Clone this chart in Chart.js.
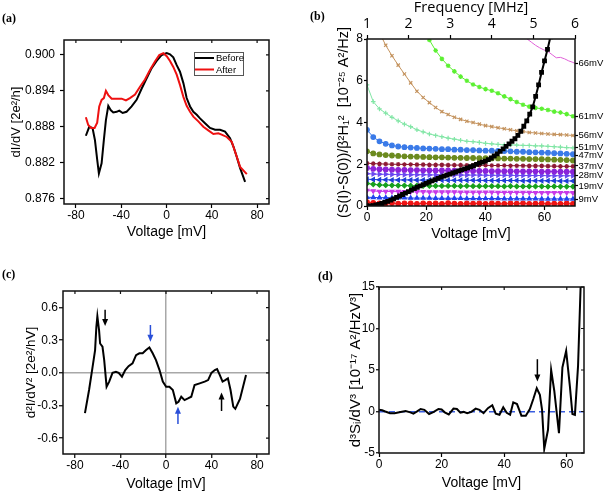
<!DOCTYPE html>
<html>
<head>
<meta charset="utf-8">
<script src="https://cdn.jsdelivr.net/npm/chart.js@4.4.1/dist/chart.umd.min.js"></script>
<style>
  body { margin: 0; background: #fff; }
  #wrap { position: relative; width: 604px; height: 494px; overflow: hidden; }
  .panel { position: absolute; width: 302px; height: 247px; }
  .tag { position: absolute; font: bold 12px/12px "Liberation Serif", "Times New Roman", serif; color: #000; }
</style>
</head>
<body>
<div id="wrap">
  <div class="panel" style="left:0;top:0"><canvas id="chartA" width="302" height="247"></canvas></div>
  <div class="panel" style="left:302px;top:0"><canvas id="chartB" width="302" height="247"></canvas></div>
  <div class="panel" style="left:0;top:247px"><canvas id="chartC" width="302" height="247"></canvas></div>
  <div class="panel" style="left:302px;top:247px"><canvas id="chartD" width="302" height="247"></canvas></div>
  <div class="tag" style="left:2px;top:12px">(a)</div>
  <div class="tag" style="left:310px;top:10px">(b)</div>
  <div class="tag" style="left:2px;top:268px">(c)</div>
  <div class="tag" style="left:318px;top:270px">(d)</div>
</div>
<script>
// ---------- (a) dI/dV ----------
const voltBefore = [-71.2, -68.2, -65.3, -63.2, -61.2, -59.7, -57.3, -55.3, -53.5, -51.4, -49.3, -47, -44, -41.7, -38.7, -35.3, -30.8, -26.4, -21.9, -17.5, -13.1, -8.7, -4.2, 0.2, 3.1, 6, 9, 11.9, 14.9, 17.8, 20.8, 23.7, 26.7, 29.6, 34, 38.4, 42.9, 47.3, 51.7, 56.1, 59.1, 62, 65, 69.4];
const didvBefore = [0.8865, 0.8880, 0.8878, 0.8858, 0.8825, 0.8802, 0.8819, 0.8858, 0.8891, 0.8915, 0.8908, 0.8904, 0.8905, 0.8907, 0.8903, 0.8905, 0.8914, 0.8925, 0.8944, 0.8961, 0.8978, 0.8990, 0.9000, 0.9003, 0.9001, 0.8996, 0.8983, 0.8972, 0.8953, 0.8928, 0.8914, 0.8905, 0.8900, 0.8894, 0.8886, 0.8878, 0.8875, 0.8875, 0.8872, 0.8861, 0.8847, 0.8830, 0.8811, 0.8788];
const voltAfter = [-71.2, -69.1, -66.4, -63.5, -61.2, -59.4, -57.3, -55.3, -53.5, -51.4, -48.4, -44, -39.6, -35.8, -32.3, -27.8, -23.4, -19, -14.6, -10.2, -6.4, -2.8, 0.2, 3.1, 6, 9, 11.9, 14.9, 17.8, 20.8, 23.7, 28.1, 32.5, 36.9, 41.4, 45.8, 48.7, 53.2, 57.6, 60.6, 65, 70.9];
const didvAfter = [0.8896, 0.8883, 0.8878, 0.8878, 0.8887, 0.8914, 0.8925, 0.8928, 0.8940, 0.8933, 0.8927, 0.8927, 0.8927, 0.8924, 0.8928, 0.8934, 0.8947, 0.8959, 0.8975, 0.8989, 0.9000, 0.9003, 0.8998, 0.8990, 0.8980, 0.8967, 0.8950, 0.8930, 0.8915, 0.8905, 0.8897, 0.8889, 0.8880, 0.8874, 0.8868, 0.8869, 0.8867, 0.8863, 0.8855, 0.8838, 0.8813, 0.8801];
const voltTicks = [-80, -40, 0, 40, 80];
const didvTicks = [0.876, 0.882, 0.888, 0.894, 0.900];

// ---------- (b) noise spectra ----------
const freqB = [1.00, 1.15, 1.30, 1.45, 1.60, 1.75, 1.90, 2.05, 2.20, 2.35, 2.50, 2.65, 2.80, 2.95, 3.10, 3.25, 3.40, 3.55, 3.70, 3.85, 4.00, 4.15, 4.30, 4.45, 4.60, 4.75, 4.90, 5.05, 5.20, 5.35, 5.50, 5.65, 5.80, 5.95];
const freq66 = [4.85, 4.95, 5.05, 5.15, 5.25, 5.35, 5.45, 5.55, 5.65, 5.75, 5.85, 5.95, 6.00];
const s66 = [8.00, 7.85, 7.70, 7.58, 7.48, 7.40, 7.25, 7.10, 7.12, 7.05, 6.95, 6.88, 6.83];
const s61 = [null, null, null, null, null, null, null, null, null, 8.40, 7.95, 7.45, 7.05, 6.72, 6.45, 6.20, 6.00, 5.82, 5.70, 5.60, 5.52, 5.40, 5.25, 5.12, 4.98, 4.85, 4.76, 4.70, 4.66, 4.60, 4.52, 4.48, 4.40, 4.30];
const s56 = [null, null, 8.30, 7.70, 7.20, 6.75, 6.32, 5.90, 5.50, 5.20, 4.95, 4.72, 4.52, 4.38, 4.25, 4.15, 4.06, 4.00, 3.92, 3.85, 3.80, 3.75, 3.70, 3.65, 3.60, 3.57, 3.52, 3.50, 3.47, 3.45, 3.43, 3.42, 3.40, 3.38];
const s51 = [5.80, 5.00, 4.65, 4.45, 4.25, 4.08, 3.92, 3.80, 3.65, 3.55, 3.45, 3.38, 3.32, 3.25, 3.20, 3.15, 3.10, 3.08, 3.05, 3.00, 2.98, 2.95, 2.93, 2.93, 2.92, 2.90, 2.90, 2.88, 2.88, 2.86, 2.84, 2.82, 2.80, 2.78];
const s47 = [3.65, 3.30, 3.10, 2.98, 2.90, 2.85, 2.82, 2.80, 2.78, 2.76, 2.75, 2.74, 2.72, 2.72, 2.70, 2.70, 2.68, 2.68, 2.66, 2.65, 2.65, 2.64, 2.63, 2.62, 2.60, 2.60, 2.58, 2.57, 2.56, 2.55, 2.53, 2.52, 2.50, 2.48];
const s42 = [2.62, 2.52, 2.47, 2.44, 2.42, 2.40, 2.38, 2.37, 2.36, 2.35, 2.34, 2.33, 2.33, 2.32, 2.31, 2.31, 2.30, 2.30, 2.29, 2.29, 2.28, 2.28, 2.27, 2.27, 2.26, 2.26, 2.25, 2.25, 2.24, 2.23, 2.22, 2.21, 2.20, 2.18];
const s37 = [2.05, 2.03, 2.02, 2.01, 2.00, 2.00, 1.99, 1.99, 1.98, 1.98, 1.97, 1.97, 1.97, 1.96, 1.96, 1.96, 1.95, 1.95, 1.95, 1.95, 1.94, 1.94, 1.94, 1.93, 1.93, 1.93, 1.92, 1.92, 1.92, 1.91, 1.91, 1.90, 1.90, 1.90];
const s33 = [1.82, 1.78, 1.76, 1.75, 1.74, 1.73, 1.73, 1.72, 1.72, 1.71, 1.71, 1.70, 1.70, 1.70, 1.69, 1.69, 1.69, 1.68, 1.68, 1.68, 1.67, 1.67, 1.67, 1.67, 1.66, 1.66, 1.66, 1.66, 1.65, 1.65, 1.65, 1.64, 1.64, 1.64];
const s28 = [1.55, 1.53, 1.52, 1.52, 1.51, 1.51, 1.50, 1.50, 1.50, 1.50, 1.49, 1.49, 1.49, 1.49, 1.48, 1.48, 1.48, 1.48, 1.48, 1.47, 1.47, 1.47, 1.47, 1.47, 1.46, 1.46, 1.46, 1.46, 1.46, 1.45, 1.45, 1.45, 1.45, 1.45];
const s23 = [1.28, 1.27, 1.26, 1.26, 1.25, 1.25, 1.25, 1.25, 1.24, 1.24, 1.24, 1.24, 1.24, 1.23, 1.23, 1.23, 1.23, 1.23, 1.23, 1.22, 1.22, 1.22, 1.22, 1.22, 1.22, 1.21, 1.21, 1.21, 1.21, 1.21, 1.21, 1.20, 1.20, 1.20];
const s19 = [1.08, 1.04, 1.01, 1.00, 0.99, 0.98, 0.98, 0.97, 0.97, 0.97, 0.96, 0.96, 0.96, 0.96, 0.96, 0.95, 0.96, 0.95, 0.95, 0.95, 0.95, 0.95, 0.94, 0.95, 0.94, 0.94, 0.94, 0.94, 0.94, 0.93, 0.94, 0.93, 0.93, 0.93];
const s14 = [0.74, 0.72, 0.70, 0.70, 0.69, 0.69, 0.68, 0.68, 0.68, 0.68, 0.67, 0.67, 0.67, 0.67, 0.67, 0.66, 0.66, 0.66, 0.66, 0.66, 0.66, 0.65, 0.65, 0.65, 0.65, 0.65, 0.65, 0.64, 0.64, 0.64, 0.64, 0.64, 0.64, 0.63];
const s9 = [0.42, 0.41, 0.40, 0.40, 0.39, 0.39, 0.39, 0.38, 0.38, 0.38, 0.38, 0.37, 0.37, 0.37, 0.37, 0.37, 0.36, 0.36, 0.36, 0.36, 0.36, 0.36, 0.35, 0.35, 0.35, 0.35, 0.35, 0.35, 0.34, 0.34, 0.34, 0.34, 0.34, 0.34];
const s5 = [0.18, 0.15, 0.13, 0.12, 0.14, 0.11, 0.13, 0.12, 0.10, 0.13, 0.11, 0.12, 0.10, 0.14, 0.11, 0.10, 0.12, 0.11, 0.13, 0.10, 0.12, 0.11, 0.10, 0.12, 0.11, 0.13, 0.10, 0.11, 0.12, 0.10, 0.11, 0.10, 0.12, 0.10];
// black curve: noise vs bias voltage
const voltB = [0, 1, 2, 3, 4, 5, 6, 7, 8, 9, 10, 11, 12, 13, 14, 15, 16, 17, 18, 19, 20, 21, 22, 23, 24, 25, 26, 27, 28, 29, 30, 31, 32, 33, 34, 35, 36, 37, 38, 39, 40, 41, 42, 43, 44, 45, 46, 47, 48, 49, 50, 51, 52, 53, 54, 55, 56, 57, 58, 59, 60, 61, 62];
const noiseB = [0, 0, 0.02, 0.05, 0.08, 0.12, 0.17, 0.22, 0.28, 0.34, 0.41, 0.48, 0.55, 0.62, 0.69, 0.76, 0.83, 0.90, 0.96, 1.02, 1.08, 1.14, 1.20, 1.26, 1.32, 1.38, 1.43, 1.48, 1.53, 1.58, 1.63, 1.68, 1.73, 1.78, 1.83, 1.88, 1.93, 1.99, 2.05, 2.10, 2.15, 2.22, 2.30, 2.40, 2.50, 2.62, 2.74, 2.86, 2.98, 3.10, 3.22, 3.38, 3.58, 3.82, 4.08, 4.40, 4.75, 5.25, 5.80, 6.40, 6.95, 7.50, 8.10];
const mvLabels = ['66mV', '61mV', '56mV', '51mV', '47mV', '37mV', '28mV', '19mV', '9mV'];
const mvLabelPos = [6.85, 4.27, 3.36, 2.80, 2.42, 1.92, 1.47, 0.96, 0.33];
const voltTicksB = [0, 20, 40, 60];
const freqTicks = [1, 2, 3, 4, 5, 6];
const noiseTicks = [0, 2, 4, 6, 8];

// ---------- (c) d2I/dV2 ----------
const voltC = [-71.2, -67.6, -64.7, -62.3, -61.2, -60.3, -58.8, -57.9, -55.8, -54.3, -52.2, -49.9, -47, -44, -41.6, -38.7, -35.8, -32.9, -29.4, -26.3, -23.4, -20.5, -17.5, -14.6, -11.7, -8.8, -5.7, -2.8, 0.1, 3, 6, 9, 11, 13.4, 16.3, 19.3, 22.2, 25.1, 29.6, 34, 37, 39.9, 42.9, 44.9, 47.3, 49.7, 52, 54.4, 56.7, 59.1, 60.9, 65, 70.3];
const d2C = [-0.37, -0.157, 0.041, 0.209, 0.42, 0.52, 0.39, 0.27, 0.24, 0.117, -0.127, -0.08, 0, 0.01, 0, -0.035, 0.026, 0.062, 0.087, 0.163, 0.18, 0.18, 0.21, 0.234, 0.18, 0.117, 0.026, -0.08, -0.127, -0.127, -0.157, -0.28, -0.265, -0.219, -0.25, -0.235, -0.219, -0.112, -0.096, -0.08, -0.066, 0, 0.026, 0.035, -0.02, -0.08, -0.066, -0.05, -0.157, -0.31, -0.33, -0.24, -0.02];
const d2Ticks = [-0.6, -0.3, 0, 0.3, 0.6];
const arrowsC = [
    { x: -53.5, from: 0.58, to: 0.43, color: '#000' },
    { x: -13.7, from: 0.44, to: 0.285, color: '#2a4fd8' },
    { x: 10.5, from: -0.47, to: -0.31, color: '#2a4fd8' },
    { x: 48.8, from: -0.35, to: -0.18, color: '#000' }
];

// ---------- (d) d3S/dV3 ----------
const voltD = [0, 1, 2, 3.5, 5, 6.5, 8.5, 10, 11, 12.3, 13.3, 14.5, 16, 17.5, 19, 20, 21, 22.3, 23.8, 24.9, 26, 27, 28.2, 29.5, 30.9, 32.1, 33.4, 34.8, 36.2, 37.3, 38.5, 39.7, 40.8, 41.9, 42.9, 44.1, 45.5, 46.9, 48.2, 49.3, 50.4, 51.4, 52.1, 52.8, 54, 55, 56, 57.5, 58.6, 59.8, 61, 61.8, 62.6, 63.6, 64.5];
const d3D = [0.2, 0.15, 0, -0.2, -0.2, -0.1, 0.05, -0.1, -0.25, 0.05, 0.3, 0.2, -0.3, -0.05, 0.3, 0.25, -0.1, -0.35, 0.35, 0.3, -0.15, -0.05, -0.2, -0.05, 0.35, 0.2, -0.2, 0.4, 0.75, -0.25, -0.4, 0.5, -0.15, -0.4, 1.1, 0.9, -0.5, -0.5, 0.3, 1.5, 2.8, 2.0, 0.2, -4.5, -2.2, 5.0, 2.5, -2.6, 5.3, 7.3, 3.0, -0.3, -0.4, 5.5, 16];
const voltTicksD = [0, 20, 40, 60];
const d3Ticks = [-5, 0, 5, 10, 15];
const arrowsD = [{ x: 50.6, from: 6.3, to: 3.6, color: '#000' }];

// ---------- helpers ----------
const SANS = '"Liberation Sans", Arial, sans-serif';
const OPEN = '"Open Sans", sans-serif';
const tickFont = { family: SANS, size: 12 };
const titleFont = { family: SANS, size: 14 };

function pts(xs, ys) {
    const out = [];
    for (let i = 0; i < xs.length; i++) {
        out.push({ x: xs[i], y: ys[i] });
    }
    return out;
}

function axis(o) {
    return {
        type: 'linear',
        position: o.pos,
        min: o.min,
        max: o.max,
        afterFit: (s) => { if (s.isHorizontal()) s.height = o.size; else s.width = o.size; },
        afterBuildTicks: (s) => { s.ticks = o.ticks.map(v => ({ value: v })); },
        border: { display: false },
        grid: { drawOnChartArea: false, tickLength: o.tl || 4, tickColor: '#000', tickWidth: 1.2 },
        ticks: {
            color: '#000',
            font: o.font || tickFont,
            padding: o.pad || 0,
            autoSkip: false,
            maxRotation: 0,
            callback: o.fmt || ((v) => v)
        },
        title: {
            display: !!o.title,
            text: o.title,
            color: '#000',
            font: o.titleFont || titleFont,
            padding: o.titlePad || 0
        }
    };
}

// box round the plot, with short inward ticks mirrored on top and right
const framePlugin = {
    id: 'frame',
    afterDatasetsDraw(chart, args, opts) {
        const { ctx, chartArea: a, scales } = chart;
        ctx.save();
        ctx.strokeStyle = '#111';
        ctx.lineWidth = 1.5;
        ctx.strokeRect(a.left, a.top, a.right - a.left, a.bottom - a.top);
        if (opts.mirror) {
            ctx.lineWidth = 1.2;
            ctx.beginPath();
            scales.x.ticks.forEach(t => {
                const px = scales.x.getPixelForValue(t.value);
                ctx.moveTo(px, a.top);
                ctx.lineTo(px, a.top + 3);
            });
            scales.y.ticks.forEach(t => {
                const py = scales.y.getPixelForValue(t.value);
                ctx.moveTo(a.right, py);
                ctx.lineTo(a.right - 3, py);
            });
            ctx.stroke();
        }
        ctx.restore();
    }
};

const arrowPlugin = {
    id: 'arrows',
    afterDatasetsDraw(chart, args, opts) {
        const { ctx, scales } = chart;
        (opts.list || []).forEach(a => {
            const px = scales.x.getPixelForValue(a.x);
            const p0 = scales.y.getPixelForValue(a.from);
            const p1 = scales.y.getPixelForValue(a.to);
            const dir = p1 > p0 ? 1 : -1;
            ctx.save();
            ctx.strokeStyle = a.color;
            ctx.fillStyle = a.color;
            ctx.lineWidth = 1.5;
            ctx.beginPath();
            ctx.moveTo(px, p0);
            ctx.lineTo(px, p1 - dir * 5);
            ctx.stroke();
            ctx.beginPath();
            ctx.moveTo(px, p1);
            ctx.lineTo(px - 3, p1 - dir * 7);
            ctx.lineTo(px + 3, p1 - dir * 7);
            ctx.closePath();
            ctx.fill();
            ctx.restore();
        });
    }
};

const legendPlugin = {
    id: 'legendBox',
    afterDraw(chart) {
        const { ctx, chartArea: a } = chart;
        const x0 = a.right - 75, y0 = a.top + 12;
        ctx.save();
        ctx.strokeStyle = '#555';
        ctx.lineWidth = 1;
        ctx.strokeRect(x0 + 0.5, y0 + 0.5, 49, 23);
        ctx.font = '9.5px ' + SANS;
        ctx.textBaseline = 'middle';
        chart.data.datasets.forEach((ds, i) => {
            const yy = y0 + 6 + i * 11.5;
            ctx.strokeStyle = ds.borderColor;
            ctx.lineWidth = 2;
            ctx.beginPath();
            ctx.moveTo(x0 + 1, yy);
            ctx.lineTo(x0 + 20, yy);
            ctx.stroke();
            ctx.fillStyle = '#000';
            ctx.fillText(ds.label, x0 + 22, yy + 0.5);
        });
        ctx.restore();
    }
};

function baseOptions(padding, scales, extra) {
    return {
        responsive: false,
        animation: false,
        devicePixelRatio: 1,
        layout: { padding: padding },
        plugins: Object.assign({ legend: { display: false }, tooltip: { enabled: false } }, extra || {}),
        scales: scales
    };
}

function lineSet(label, data, color, width, extra) {
    return Object.assign({
        label: label,
        data: data,
        borderColor: color,
        backgroundColor: color,
        borderWidth: width,
        pointRadius: 0,
        tension: 0,
        fill: false
    }, extra || {});
}

// ---------- (a) ----------
new Chart(document.getElementById('chartA').getContext('2d'), {
    type: 'line',
    data: {
        datasets: [
            lineSet('Before', pts(voltBefore, didvBefore), '#000', 2, { order: 1 }),
            lineSet('After', pts(voltAfter, didvAfter), '#ee1111', 2, { order: 0 })
        ]
    },
    options: baseOptions({ left: 0, top: 40, right: 33, bottom: 0 }, {
        x: axis({ pos: 'bottom', min: -90.5, max: 90.5, size: 43, ticks: voltTicks, title: 'Voltage [mV]', titlePad: { bottom: 6 } }),
        y: axis({ pos: 'left', min: 0.8751, max: 0.9025, size: 64, ticks: didvTicks, pad: 5, fmt: v => v.toFixed(3),
            title: 'dI/dV [2e²/h]', titleFont: { family: SANS, size: 13 }, titlePad: { top: 9 } })
    }, { frame: { mirror: true } }),
    plugins: [framePlugin, legendPlugin]
});

// ---------- (b) ----------
function spec(label, ys, color, style, rot) {
    return lineSet(label, pts(freqB, ys), color, 1, {
        xAxisID: 'x2',
        pointRadius: 2.3,
        pointStyle: style,
        pointRotation: rot || 0,
        pointBorderWidth: 1.2,
        pointBorderColor: color,
        pointBackgroundColor: color
    });
}

const scalesB = {
    x: axis({ pos: 'bottom', min: 0, max: 70.3, size: 41, ticks: voltTicksB, title: 'Voltage [mV]', titlePad: { bottom: 4.5 } }),
    x2: axis({ pos: 'top', min: 1, max: 6, size: 39, ticks: freqTicks, pad: 3,
        font: { family: OPEN, size: 14 },
        title: 'Frequency [MHz]', titleFont: { family: OPEN, size: 14.5 }, titlePad: { top: -1 } }),
    y: axis({ pos: 'left', min: 0, max: 8, size: 65, ticks: noiseTicks, tl: 3, pad: 1,
        title: '(S(I)-S(0))/β²H₁²  [10⁻²⁵ A²/Hz]', titleFont: { family: SANS, size: 14.5 }, titlePad: { top: 33 } }),
    y2: axis({ pos: 'right', min: 0, max: 8, size: 29, ticks: mvLabelPos, tl: 3, pad: 0.5,
        font: { family: SANS, size: 9.5 }, fmt: (v, i) => mvLabels[i] })
};

new Chart(document.getElementById('chartB').getContext('2d'), {
    type: 'line',
    data: {
        datasets: [
            lineSet('noise vs V', pts(voltB, noiseB), '#000', 2, {
                xAxisID: 'x', pointRadius: 2, pointStyle: 'rect', pointBackgroundColor: '#000', pointBorderColor: '#000'
            }),
            lineSet('66mV', pts(freq66, s66), '#e060d8', 1, { xAxisID: 'x2' }),
            spec('61mV', s61, '#5cf032', 'star'),
            spec('56mV', s56, '#c4935e', 'crossRot'),
            spec('51mV', s51, '#82e6a6', 'cross'),
            spec('47mV', s47, '#3a7ae8', 'circle'),
            spec('42mV', s42, '#6b8a1e', 'circle'),
            spec('37mV', s37, '#8e1a34', 'star'),
            spec('33mV', s33, '#8a22d8', 'circle'),
            spec('28mV', s28, '#6a48f0', 'triangle', 90),
            spec('23mV', s23, '#1e3ed6', 'triangle', -90),
            spec('19mV', s19, '#18a01e', 'rectRot'),
            spec('14mV', s14, '#c83ae8', 'triangle', 180),
            spec('9mV', s9, '#2244ee', 'triangle'),
            spec('5mV', s5, '#ee1414', 'circle')
        ]
    },
    options: baseOptions({ left: 0, top: 0, right: 0, bottom: 0 }, scalesB),
    plugins: [framePlugin]
});

// ---------- (c) ----------
const scalesC = {
    x: axis({ pos: 'bottom', min: -90.5, max: 90.5, size: 40, ticks: voltTicks, title: 'Voltage [mV]', titlePad: { bottom: 1 } }),
    y: axis({ pos: 'left', min: -0.745, max: 0.752, size: 63, ticks: d2Ticks, pad: 1, fmt: v => v.toFixed(1),
        title: 'd²I/dV² [2e²/hV]', titleFont: { family: SANS, size: 13.5 }, titlePad: { top: 23 } })
};
const zeroGrid = (col) => ({
    drawOnChartArea: true, tickLength: 4, tickColor: '#000', tickWidth: 1.2, lineWidth: 1.5,
    color: c => (c.tick && c.tick.value === 0 ? col : 'rgba(0,0,0,0)')
});
scalesC.x.grid = zeroGrid('#a8a8a8');
scalesC.y.grid = zeroGrid('#a8a8a8');

new Chart(document.getElementById('chartC').getContext('2d'), {
    type: 'line',
    data: { datasets: [lineSet('d2I/dV2', pts(voltC, d2C), '#000', 2)] },
    options: baseOptions({ left: 0, top: 44, right: 33, bottom: 0 }, scalesC, { arrows: { list: arrowsC }, frame: { mirror: true } }),
    plugins: [framePlugin, arrowPlugin]
});

// ---------- (d) ----------
const scalesD = {
    x: axis({ pos: 'bottom', min: 0, max: 65.5, size: 41, ticks: voltTicksD, title: 'Voltage [mV]', titlePad: { bottom: 2.5 } }),
    y: axis({ pos: 'left', min: -5, max: 15, size: 77, ticks: d3Ticks, tl: 3, pad: 1,
        title: 'd³Sᵢ/dV³ [10⁻¹⁷ A²/HzV³]', titleFont: { family: SANS, size: 15 }, titlePad: { top: 45 } })
};
scalesD.y.grid = zeroGrid('#3a5ee0');
scalesD.y.grid.tickLength = 3;
scalesD.y.border = { display: false, dash: [6, 4] };

new Chart(document.getElementById('chartD').getContext('2d'), {
    type: 'line',
    data: { datasets: [lineSet('d3S/dV3', pts(voltD, d3D), '#000', 2)] },
    options: baseOptions({ left: 0, top: 40, right: 20, bottom: 0 }, scalesD, { arrows: { list: arrowsD }, frame: { mirror: true } }),
    plugins: [framePlugin, arrowPlugin]
});
</script>
</body>
</html>
